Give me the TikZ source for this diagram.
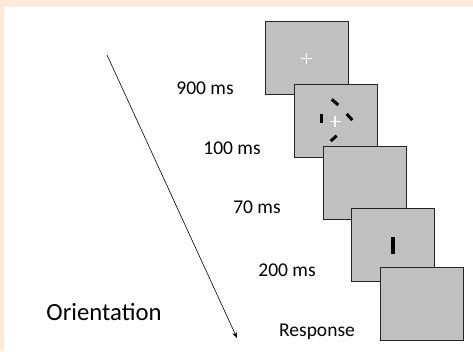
\documentclass[tikz,border=0pt]{standalone}
\usepackage{fontspec}
\setmainfont{Carlito}
\definecolor{slideBg}{HTML}{FDEADB}
\definecolor{screenGray}{HTML}{C0C0C0}
\usetikzlibrary{arrows.meta}

\begin{document}
\begin{tikzpicture}[x=1pt,y=-1pt,
  screen/.style={rectangle,fill=screenGray,draw=black!85,line width=0.9pt,minimum width=83pt,minimum height=73pt,inner sep=0pt},
  fix/.style={white,line width=1.2pt},
  grating/.style={black,line width=3pt},
  timeflow/.style={black,line width=0.6pt,-{Stealth[length=6pt,width=4.5pt]}},
  lbl/.style={anchor=base,font=\fontsize{19.5}{22}\selectfont}]
  % slide background
  \fill[slideBg] (0,0) rectangle (473,351);
  \fill[white] (4,7) rectangle (473,351);
  % screens, back to front
  \node[screen] (fixation) at (306.5,58) {};
  \node[screen] (cue) at (335.5,120.5) {};
  \node[screen] (blank) at (364.5,182.5) {};
  \node[screen] (target) at (393,244.5) {};
  \node[screen] (response) at (421.5,303.5) {};
  % fixation cross
  \draw[fix] (301,58.5) -- (312,58.5) (306.5,53) -- (306.5,64);
  % cue: four dashes round the cross
  \draw[grating] (331.7,99.3) -- (338.3,105);
  \draw[grating] (346.7,114) -- (352.3,120);
  \draw[grating] (321.7,114) -- (321.7,122.7);
  \draw[grating] (330.7,141) -- (336.7,135.7);
  \draw[fix] (329.5,121.7) -- (340.5,121.7) (335,116.2) -- (335,127.2);
  % target bar
  \fill[black] (391,236.5) rectangle (395,253.5);
  % durations
  \node[lbl] (t900) at (205,94) {900 ms};
  \node[lbl] (t100) at (232,154) {100 ms};
  \node[lbl] (t70) at (257,213.3) {70 ms};
  \node[lbl] (t200) at (287,276.5) {200 ms};
  \node[lbl] (tresp) at (317,336.7) {Response};
  \node[lbl,font=\fontsize{24.7}{28}\selectfont] (task) at (104,320) {Orientation};
  % time axis
  \coordinate (tstart) at (107,55);
  \coordinate (tend) at (237,338);
  \draw[timeflow] (tstart) -- (tend);
\end{tikzpicture}
\end{document}
